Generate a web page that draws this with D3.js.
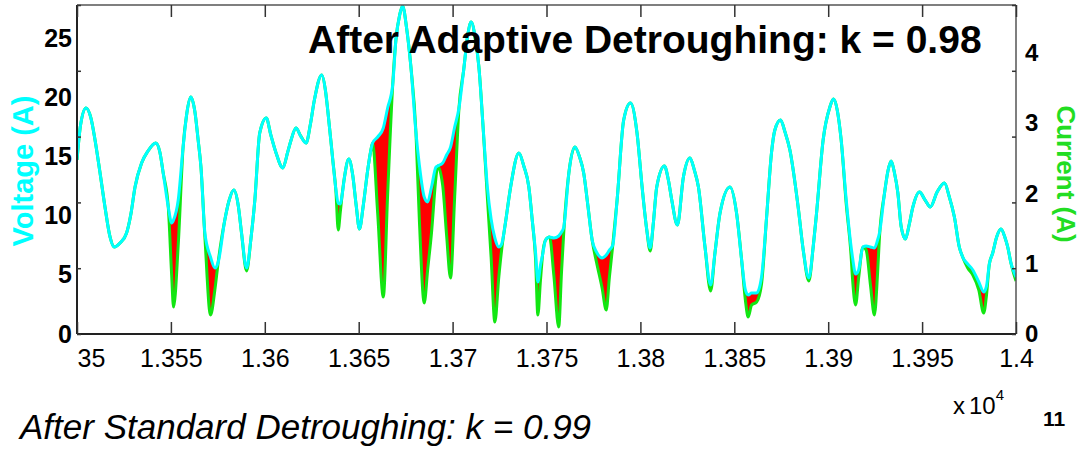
<!DOCTYPE html>
<html>
<head>
<meta charset="utf-8">
<script src="https://cdn.jsdelivr.net/npm/d3@7"></script>
<style>
  html, body { margin: 0; padding: 0; background: #ffffff; }
  svg { display: block; font-family: "Liberation Sans", Arial, Helvetica, sans-serif; }
</style>
</head>
<body>
<svg id="chart" width="1082" height="450"></svg>
<script>
// Sample positions (raw sample index, axis shown in units of 10^4)
const sampleX = [
  13500.0, 13501.9, 13504.8, 13507.4, 13509.6, 13512.2, 13514.9, 13517.6, 13519.8, 13522.9,
  13526.4, 13528.7, 13530.9, 13534.4, 13537.8, 13542.0, 13544.1, 13545.9, 13548.6, 13550.4,
  13551.4, 13553.9, 13556.5, 13558.5, 13560.6, 13562.8, 13564.5, 13566.0, 13568.1, 13571.1,
  13573.4, 13575.2, 13578.7, 13580.9, 13583.5, 13585.9, 13587.6, 13590.3, 13592.6, 13594.7,
  13597.3, 13600.8, 13603.2, 13606.0, 13609.6, 13612.2, 13614.0, 13616.6, 13619.1, 13622.0,
  13624.2, 13626.4, 13630.3, 13632.4, 13633.5, 13636.2, 13637.9, 13639.1, 13640.2, 13641.1,
  13642.6, 13644.7, 13646.8, 13648.7, 13650.4, 13652.4, 13654.8, 13656.4, 13657.4, 13660.1,
  13663.1, 13665.4, 13668.1, 13669.8, 13671.8, 13673.4, 13675.5, 13677.8, 13680.5, 13682.3,
  13684.9, 13686.7, 13688.8, 13691.1, 13692.0, 13694.7, 13696.8, 13698.9, 13701.1, 13703.4,
  13705.9, 13708.0, 13709.9, 13712.2, 13714.0, 13716.2, 13718.5, 13720.5, 13722.5, 13724.6,
  13726.1, 13728.2, 13730.9, 13735.3, 13737.9, 13740.6, 13742.4, 13744.2, 13745.4, 13746.8,
  13747.9, 13749.5, 13751.6, 13753.9, 13756.5, 13758.0, 13759.2, 13761.9, 13765.1, 13767.6,
  13769.8, 13772.0, 13774.3, 13776.6, 13779.6, 13781.8, 13783.5, 13785.3, 13787.6, 13791.1,
  13794.7, 13798.2, 13800.9, 13803.4, 13805.2, 13806.9, 13808.7, 13812.8, 13814.9, 13816.7,
  13819.7, 13822.9, 13826.4, 13828.7, 13830.9, 13834.4, 13837.4, 13839.7, 13842.4, 13847.7,
  13851.2, 13853.9, 13855.9, 13857.4, 13859.2, 13861.9, 13864.5, 13867.2, 13869.8, 13871.6,
  13874.6, 13877.0, 13879.6, 13884.0, 13886.7, 13889.7, 13892.0, 13893.8, 13897.3, 13900.9,
  13902.8, 13904.8, 13906.9, 13909.6, 13912.2, 13913.0, 13914.6, 13916.2, 13918.5, 13920.2,
  13922.5, 13924.6, 13926.3, 13927.3, 13930.0, 13931.8, 13933.5, 13935.3, 13937.1, 13938.8,
  13941.1, 13943.2, 13945.1, 13948.6, 13951.6, 13954.4, 13958.0, 13961.9, 13964.5, 13967.2,
  13969.8, 13971.6, 13974.3, 13977.0, 13980.2, 13982.8, 13984.3, 13985.8, 13987.6, 13989.7,
  13992.0, 13994.2, 13995.6, 13997.3, 14000.0
];

// Voltage trace (left axis)
const voltage = [
  14.70, 17.65, 19.09, 18.24, 16.39, 13.68, 10.73, 8.19, 7.35, 7.69,
  8.53, 10.14, 12.42, 14.44, 15.46, 16.13, 15.37, 13.60, 10.73, 9.38,
  9.63, 11.32, 15.79, 18.67, 20.02, 18.75, 16.39, 14.10, 8.53, 6.50,
  5.57, 6.08, 9.63, 11.23, 12.16, 10.81, 8.53, 5.57, 8.02, 11.32,
  16.98, 18.24, 16.81, 15.29, 14.02, 15.37, 16.39, 17.40, 16.72, 16.13,
  17.65, 19.76, 21.88, 20.44, 18.92, 14.70, 12.16, 11.06, 10.98, 11.66,
  13.43, 14.78, 13.43, 10.81, 8.87, 10.81, 13.85, 15.46, 16.13, 16.64,
  17.40, 19.09, 21.03, 24.83, 26.94, 27.70, 25.84, 22.55, 16.98, 14.27,
  11.57, 11.15, 12.42, 14.10, 14.19, 14.44, 15.12, 15.79, 17.48, 19.09,
  22.30, 25.17, 26.35, 24.83, 22.55, 17.57, 12.42, 9.71, 8.11, 7.35,
  7.60, 9.46, 12.42, 15.29, 14.19, 12.42, 9.63, 6.84, 4.39, 5.83,
  6.67, 7.94, 8.19, 8.11, 8.28, 8.61, 9.04, 13.60, 15.79, 14.95,
  13.60, 10.90, 7.94, 6.93, 6.42, 6.67, 7.09, 7.52, 11.32, 18.07,
  19.51, 16.98, 12.42, 8.78, 7.26, 9.38, 12.42, 14.19, 13.01, 11.32,
  9.21, 13.26, 14.86, 13.85, 12.42, 7.35, 4.14, 6.84, 10.22, 12.42,
  10.22, 6.25, 3.72, 3.29, 3.46, 3.46, 4.81, 9.88, 15.29, 17.23,
  18.07, 17.06, 15.54, 10.73, 7.09, 4.73, 7.35, 10.22, 16.39, 19.17,
  19.85, 18.92, 16.39, 11.32, 7.35, 6.42, 5.07, 5.41, 7.35, 7.43,
  7.35, 7.26, 7.94, 8.53, 11.91, 13.77, 14.61, 13.60, 11.91, 9.12,
  8.02, 9.29, 10.73, 11.99, 11.32, 10.73, 11.99, 12.75, 11.57, 9.88,
  7.35, 6.50, 5.91, 5.41, 4.39, 3.55, 4.05, 5.91, 6.84, 8.19,
  8.87, 8.11, 7.35, 6.00, 4.81
];

// Current trace (right axis)
const current = [
  2.477, 2.975, 3.217, 3.075, 2.762, 2.306, 1.808, 1.381, 1.238, 1.295,
  1.438, 1.708, 2.093, 2.434, 2.605, 2.719, 2.591, 2.292, 1.808, 0.840,
  0.384, 1.267, 2.662, 3.146, 3.374, 3.160, 2.762, 2.377, 1.381, 0.270,
  0.626, 1.025, 1.623, 1.893, 2.050, 1.822, 1.438, 0.897, 1.352, 1.907,
  2.861, 3.075, 2.833, 2.577, 2.363, 2.591, 2.762, 2.932, 2.819, 2.719,
  2.975, 3.331, 3.687, 3.445, 3.189, 2.477, 2.021, 1.480, 1.737, 1.964,
  2.263, 2.491, 2.263, 1.822, 1.495, 1.822, 2.335, 2.605, 2.719, 1.722,
  0.527, 1.979, 3.545, 4.185, 4.541, 4.669, 4.356, 3.801, 2.861, 1.623,
  0.441, 0.911, 1.452, 2.221, 2.391, 2.121, 1.409, 0.797, 1.950, 3.217,
  3.758, 4.242, 4.441, 4.185, 3.801, 2.961, 1.950, 1.096, 0.171, 0.811,
  1.196, 1.594, 2.093, 2.577, 2.391, 2.093, 1.623, 1.053, 0.270, 0.769,
  1.125, 1.338, 1.381, 0.840, 0.100, 0.883, 1.452, 2.292, 2.662, 2.520,
  2.292, 1.836, 1.338, 1.025, 0.655, 0.342, 0.811, 1.267, 1.907, 3.046,
  3.288, 2.861, 2.093, 1.480, 1.182, 1.580, 2.093, 2.391, 2.192, 1.907,
  1.552, 2.235, 2.505, 2.335, 2.093, 1.238, 0.612, 1.153, 1.722, 2.093,
  1.722, 1.053, 0.484, 0.242, 0.413, 0.456, 0.712, 1.665, 2.577, 2.904,
  3.046, 2.875, 2.619, 1.808, 1.196, 0.754, 1.238, 1.722, 2.762, 3.231,
  3.345, 3.189, 2.762, 1.851, 1.110, 0.769, 0.413, 0.797, 1.238, 1.196,
  0.698, 0.270, 0.868, 1.381, 2.007, 2.320, 2.463, 2.292, 2.007, 1.537,
  1.352, 1.566, 1.808, 2.021, 1.907, 1.808, 2.021, 2.149, 1.950, 1.665,
  1.238, 1.096, 0.940, 0.840, 0.626, 0.299, 0.555, 0.996, 1.153, 1.381,
  1.495, 1.367, 1.238, 1.011, 0.754
];

const xTicks = [13500, 13550, 13600, 13650, 13700, 13750, 13800, 13850, 13900, 13950, 14000];
// the first label is cut short at the frame edge
const xTickLabels = ["35", "1.355", "1.36", "1.365", "1.37", "1.375", "1.38", "1.385", "1.39", "1.395", "1.4"];
const voltageTicks = [0, 5, 10, 15, 20, 25];
const currentTicks = [0, 1, 2, 3, 4];
const gridMarks = [0, 1, 2, 3, 4, 5];

const titleText = "After Adaptive Detroughing: k = 0.98";
const captionText = "After Standard Detroughing: k = 0.99";
const voltageLabel = "Voltage (A)";
const currentLabel = "Current (A)";
const pageNumber = "11";

// ---- layout ----
const plot = { left: 77, right: 1016, top: 5, bottom: 334 };

const svg = d3.select("#chart");

const x = d3.scaleLinear().domain([13500, 14000]).range([plot.left, plot.right]);
const yV = d3.scaleLinear().domain([0, 27.79]).range([plot.bottom, plot.top]);
const yI = d3.scaleLinear().domain([0, 4.683]).range([plot.bottom, plot.top]);
const yMarks = d3.scaleLinear().domain([0, 5]).range([plot.bottom, plot.top]);

const rows = sampleX.map((sx, i) => ({ x: sx, v: voltage[i], c: current[i] }));

svg.append("defs").append("clipPath").attr("id", "plotClip")
  .append("rect")
  .attr("x", plot.left).attr("y", plot.top)
  .attr("width", plot.right - plot.left).attr("height", plot.bottom - plot.top);

const marks = svg.append("g").attr("clip-path", "url(#plotClip)");

// Trough fill between the voltage and current traces
const gap = d3.area()
  .x(d => x(d.x))
  .y0(d => yV(d.v))
  .y1(d => yI(d.c))
  .curve(d3.curveMonotoneX);

marks.append("path")
  .datum(rows)
  .attr("d", gap)
  .attr("fill", "#ff0000")
  .attr("stroke", "none");

const currentLine = d3.line()
  .x(d => x(d.x))
  .y(d => yI(d.c))
  .curve(d3.curveMonotoneX);

marks.append("path")
  .datum(rows)
  .attr("d", currentLine)
  .attr("fill", "none")
  .attr("stroke", "#12e612")
  .attr("stroke-width", 3)
  .attr("stroke-linejoin", "round");

const voltageLine = d3.line()
  .x(d => x(d.x))
  .y(d => yV(d.v))
  .curve(d3.curveMonotoneX);

marks.append("path")
  .datum(rows)
  .attr("d", voltageLine)
  .attr("fill", "none")
  .attr("stroke", "#00ffff")
  .attr("stroke-width", 3)
  .attr("stroke-linejoin", "round");

// ---- frame ----
svg.append("line").attr("x1", plot.left).attr("x2", plot.right).attr("y1", plot.top).attr("y2", plot.top)
  .attr("stroke", "#555").attr("stroke-width", 1.5);
svg.append("line").attr("x1", plot.right).attr("x2", plot.right).attr("y1", plot.top).attr("y2", plot.bottom)
  .attr("stroke", "#555").attr("stroke-width", 1.5);
svg.append("line").attr("x1", plot.left).attr("x2", plot.left).attr("y1", plot.top).attr("y2", plot.bottom)
  .attr("stroke", "#222").attr("stroke-width", 2);
svg.append("line").attr("x1", plot.left).attr("x2", plot.right).attr("y1", plot.bottom).attr("y2", plot.bottom)
  .attr("stroke", "#222").attr("stroke-width", 2);

// ---- x axis ticks (bottom + top, inward) ----
const xBottom = svg.append("g")
  .attr("transform", `translate(0,${plot.bottom})`)
  .call(d3.axisBottom(x).tickValues(xTicks).tickSize(-12).tickFormat(""));
xBottom.select(".domain").remove();
xBottom.selectAll("line").attr("stroke", "#333").attr("stroke-width", 1.5);

const xTop = svg.append("g")
  .attr("transform", `translate(0,${plot.top})`)
  .call(d3.axisTop(x).tickValues(xTicks).tickSize(-12).tickFormat(""));
xTop.select(".domain").remove();
xTop.selectAll("line").attr("stroke", "#333").attr("stroke-width", 1.5);

const xLabels = svg.append("g")
  .attr("transform", `translate(0,${plot.bottom})`)
  .call(d3.axisBottom(x).tickValues(xTicks).tickSize(0).tickPadding(15)
    .tickFormat((d, i) => xTickLabels[i]));
xLabels.select(".domain").remove();
xLabels.selectAll("text")
  .attr("fill", "#000")
  .style("font-size", "25px")
  .style("font-family", "'Liberation Sans', Arial, sans-serif");
// the truncated first label sits flush against the left frame
xLabels.selectAll("text").filter((d, i) => i === 0)
  .attr("text-anchor", "start")
  .attr("x", 0);

// ---- y tick marks (small, inward on both sides) ----
const yLeftMarks = svg.append("g")
  .attr("transform", `translate(${plot.left},0)`)
  .call(d3.axisLeft(yMarks).tickValues(gridMarks).tickSize(-4).tickFormat(""));
yLeftMarks.select(".domain").remove();
yLeftMarks.selectAll("line").attr("stroke", "#333").attr("stroke-width", 1.5);

const yRightMarks = svg.append("g")
  .attr("transform", `translate(${plot.right},0)`)
  .call(d3.axisRight(yMarks).tickValues(gridMarks).tickSize(-4).tickFormat(""));
yRightMarks.select(".domain").remove();
yRightMarks.selectAll("line").attr("stroke", "#333").attr("stroke-width", 1.5);

// ---- y labels ----
const yLeft = svg.append("g")
  .attr("transform", `translate(${plot.left},0)`)
  .call(d3.axisLeft(yV).tickValues(voltageTicks).tickSize(0).tickPadding(5).tickFormat(d3.format("d")));
yLeft.select(".domain").remove();
yLeft.selectAll("text")
  .attr("fill", "#000")
  .style("font-size", "25px")
  .style("font-weight", "bold")
  .style("font-family", "'Liberation Sans', Arial, sans-serif");

const yRight = svg.append("g")
  .attr("transform", `translate(${plot.right},0)`)
  .call(d3.axisRight(yI).tickValues(currentTicks).tickSize(0).tickPadding(9).tickFormat(d3.format("d")));
yRight.select(".domain").remove();
yRight.selectAll("text")
  .attr("fill", "#000")
  .style("font-size", "24px")
  .style("font-weight", "bold")
  .style("font-family", "'Liberation Sans', Arial, sans-serif");

// ---- axis titles ----
svg.append("text")
  .attr("transform", "translate(33,171) rotate(-90)")
  .attr("text-anchor", "middle")
  .attr("fill", "#00ffff")
  .style("font-size", "29px")
  .style("font-weight", "bold")
  .text(voltageLabel);

svg.append("text")
  .attr("transform", "translate(1057,174) rotate(90)")
  .attr("text-anchor", "middle")
  .attr("fill", "#22dd22")
  .style("font-size", "26px")
  .style("font-weight", "bold")
  .text(currentLabel);

// ---- title and caption ----
svg.append("text")
  .attr("x", 308).attr("y", 53)
  .attr("fill", "#000")
  .style("font-size", "39px")
  .style("font-weight", "bold")
  .text(titleText);

svg.append("text")
  .attr("x", 20).attr("y", 439)
  .attr("fill", "#000")
  .style("font-size", "35px")
  .style("font-style", "italic")
  .text(captionText);

// exponent marker for the x axis
const expo = svg.append("text")
  .attr("x", 953).attr("y", 414)
  .attr("fill", "#000")
  .style("font-size", "24px");
expo.append("tspan").text("x");
expo.append("tspan").attr("dx", 4).text("10");
expo.append("tspan").attr("dy", -14).style("font-size", "15px").text("4");

svg.append("text")
  .attr("x", 1043).attr("y", 426)
  .attr("fill", "#000")
  .style("font-size", "21px")
  .style("font-weight", "bold")
  .text(pageNumber);
</script>
</body>
</html>
